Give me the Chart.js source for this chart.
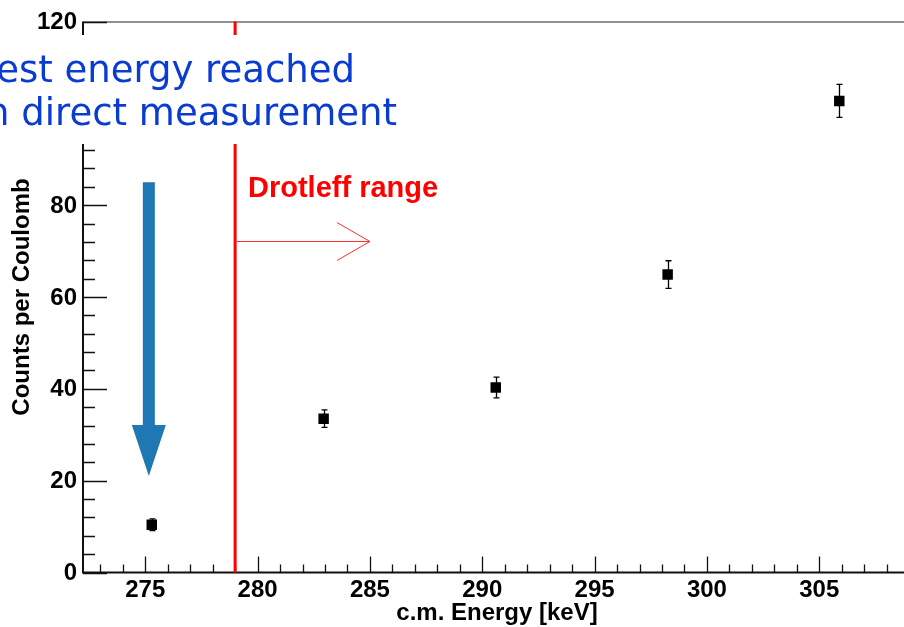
<!DOCTYPE html>
<html>
<head>
<meta charset="utf-8">
<script src="https://cdn.jsdelivr.net/npm/chart.js@4.4.1/dist/chart.umd.min.js"></script>
<style>
html, body { margin: 0; padding: 0; background: #fff; }
#wrap { width: 904px; height: 627px; }
</style>
</head>
<body>
<div id="wrap"><canvas id="chart" width="904" height="627"></canvas></div>
<script>
// measured points (c.m. energy in keV, counts per coulomb, error)
const energies = [275.29, 282.94, 290.60, 298.25, 305.89];
const counts = [10.4, 33.5, 40.3, 64.9, 102.7];
const errors = [1.3, 1.9, 2.25, 3.0, 3.6];

const xTicks = [275, 280, 285, 290, 295, 300, 305];
const yTicks = [0, 20, 40, 60, 80, 100, 120];
const xRange = [272.23, 308.77];
const yRange = [0, 120];

const drotleffStart = 279;
const redArrowEnd = 285.0;
const redArrowY = 72.1;
const blueArrow = { x: 275.16, top: 85.0, headBase: 32.1, tip: 21.0 };

const BOLD = 'bold 24px "Liberation Sans", Arial, sans-serif';

const rootAxes = {
    id: 'rootAxes',
    beforeDatasetsDraw(chart) {
        const { ctx } = chart;
        const xs = chart.scales.x, ys = chart.scales.y;
        // error bars
        ctx.save();
        ctx.strokeStyle = '#000';
        ctx.lineWidth = 1.3;
        energies.forEach((e, i) => {
            const px = Math.round(xs.getPixelForValue(e)) + 0.5;
            const top = ys.getPixelForValue(counts[i] + errors[i]);
            const bot = ys.getPixelForValue(counts[i] - errors[i]);
            ctx.beginPath();
            ctx.moveTo(px, top); ctx.lineTo(px, bot);
            ctx.moveTo(px - 3, top); ctx.lineTo(px + 3, top);
            ctx.moveTo(px - 3, bot); ctx.lineTo(px + 3, bot);
            ctx.stroke();
        });
        ctx.restore();
    },
    afterDraw(chart) {
        const { ctx, chartArea: a } = chart;
        const xs = chart.scales.x, ys = chart.scales.y;
        ctx.save();

        // frame top line
        ctx.strokeStyle = '#222';
        ctx.lineWidth = 1;
        ctx.beginPath();
        ctx.moveTo(a.left, a.top + 0.5); ctx.lineTo(a.right, a.top + 0.5);
        ctx.stroke();

        // axes
        ctx.strokeStyle = '#111';
        ctx.lineWidth = 2;
        ctx.beginPath();
        ctx.moveTo(a.left, a.top); ctx.lineTo(a.left, a.bottom);
        ctx.lineTo(a.right, a.bottom);
        ctx.stroke();

        ctx.lineWidth = 1.3;
        ctx.beginPath();
        for (let v = 273; v <= 308; v++) {
            const px = Math.round(xs.getPixelForValue(v)) + 0.5;
            const len = v % 5 === 0 ? 16 : 8;
            ctx.moveTo(px, a.bottom); ctx.lineTo(px, a.bottom - len);
        }
        for (let v = 0; v <= 120; v += 4) {
            const py = Math.round(ys.getPixelForValue(v)) + 0.5;
            const len = v % 20 === 0 ? 24 : 12;
            ctx.moveTo(a.left, py); ctx.lineTo(a.left + len, py);
        }
        ctx.stroke();

        // tick labels
        ctx.fillStyle = '#000';
        ctx.font = BOLD;
        ctx.textAlign = 'center';
        ctx.textBaseline = 'middle';
        xTicks.forEach(v => ctx.fillText(String(v), xs.getPixelForValue(v), 590));
        ctx.textAlign = 'right';
        yTicks.forEach(v => ctx.fillText(String(v), 77, ys.getPixelForValue(v) + 1));

        // axis titles
        ctx.font = 'bold 24px "Liberation Sans", Arial, sans-serif';
        ctx.textAlign = 'center';
        ctx.fillText('c.m. Energy [keV]', 497, 613);
        ctx.save();
        ctx.translate(22, 297);
        ctx.rotate(-Math.PI / 2);
        ctx.fillText('Counts per Coulomb', 0, 0);
        ctx.restore();

        // Drotleff boundary
        const rx = xs.getPixelForValue(drotleffStart);
        ctx.strokeStyle = '#ff0000';
        ctx.lineWidth = 3;
        ctx.beginPath();
        ctx.moveTo(rx, a.top); ctx.lineTo(rx, a.bottom);
        ctx.stroke();

        const ay = Math.round(ys.getPixelForValue(redArrowY)) + 0.5;
        const ax2 = xs.getPixelForValue(redArrowEnd);
        ctx.strokeStyle = '#ff3030';
        ctx.lineWidth = 1;
        ctx.beginPath();
        ctx.moveTo(rx, ay); ctx.lineTo(ax2, ay);
        ctx.moveTo(ax2 - 33, ay - 19); ctx.lineTo(ax2, ay); ctx.lineTo(ax2 - 33, ay + 19);
        ctx.stroke();

        ctx.fillStyle = '#ff0000';
        ctx.font = 'bold 29px "Liberation Sans", Arial, sans-serif';
        ctx.textAlign = 'left';
        ctx.textBaseline = 'alphabetic';
        ctx.fillText('Drotleff range', 248, 197);

        // blue arrow
        const bx = xs.getPixelForValue(blueArrow.x);
        const bTop = ys.getPixelForValue(blueArrow.top);
        const bHead = ys.getPixelForValue(blueArrow.headBase);
        const bTip = ys.getPixelForValue(blueArrow.tip);
        ctx.fillStyle = '#1f77b4';
        ctx.beginPath();
        ctx.moveTo(bx - 6, bTop); ctx.lineTo(bx + 6, bTop);
        ctx.lineTo(bx + 6, bHead); ctx.lineTo(bx + 17, bHead);
        ctx.lineTo(bx, bTip); ctx.lineTo(bx - 17, bHead);
        ctx.lineTo(bx - 6, bHead);
        ctx.closePath();
        ctx.fill();

        // text box
        ctx.fillStyle = '#fff';
        ctx.fillRect(0, 35, 402, 109);
        ctx.fillStyle = '#0a3cd2';
        ctx.font = '37px "DejaVu Sans", sans-serif';
        ctx.textAlign = 'right';
        ctx.fillText('Lowest energy reached', 355, 82);
        ctx.fillText('in direct measurement', 397, 125);

        ctx.restore();
    }
};

new Chart(document.getElementById('chart'), {
    type: 'scatter',
    data: {
        datasets: [{
            data: energies.map((e, i) => ({ x: e, y: counts[i] })),
            pointStyle: 'rect',
            pointRadius: 7.4,
            backgroundColor: '#000',
            borderColor: '#000',
            borderWidth: 0
        }]
    },
    options: {
        responsive: false,
        animation: false,
        layout: { autoPadding: false, padding: { left: 83, right: 0, top: 21.5, bottom: 54.5 } },
        plugins: { legend: { display: false }, tooltip: { enabled: false } },
        scales: {
            x: { type: 'linear', min: xRange[0], max: xRange[1], display: false },
            y: { type: 'linear', min: yRange[0], max: yRange[1], display: false }
        }
    },
    plugins: [rootAxes]
});
</script>
</body>
</html>
